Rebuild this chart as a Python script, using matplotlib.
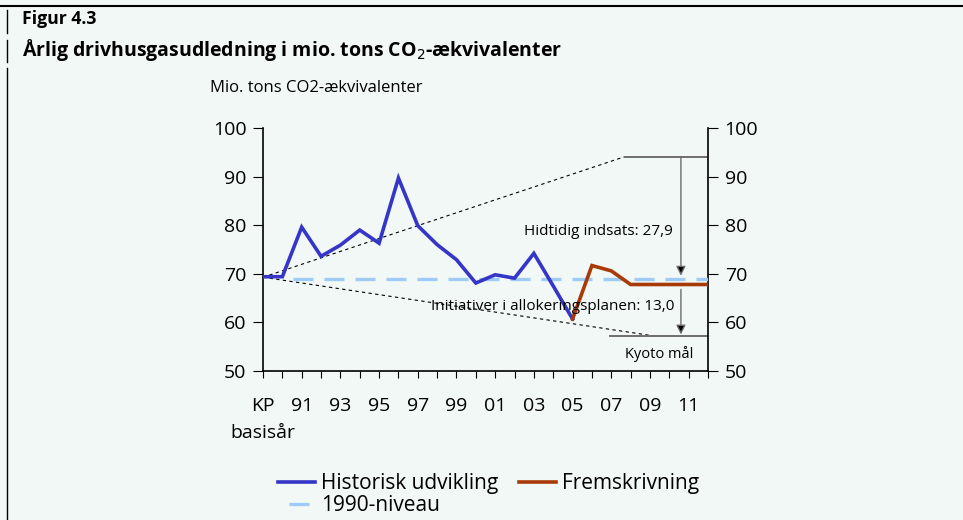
import matplotlib
matplotlib.use("Agg")
import matplotlib.pyplot as plt
import numpy as np

plt.rcParams['font.family'] = ['Open Sans', 'DejaVu Sans']

# data
years = ['KP', '90', '91', '92', '93', '94', '95', '96', '97', '98', '99', '00',
         '01', '02', '03', '04', '05', '06', '07', '08', '09', '10', '11', '12']
historisk = [69.4, 69.4, 79.6, 73.6, 75.9, 79.0, 76.3, 89.7, 79.9, 76.0, 72.9, 68.1,
             69.8, 69.1, 74.2, 67.5, 60.7]
frem_start = 16
fremskrivning = [60.7, 71.7, 70.6, 67.8, 67.8, 67.8, 67.8, 67.8]
niveau_1990 = 68.9

# annotation guide lines (x in category index, y in mio. tons)
upper_guide_x = [0, 18.7]
upper_guide_y = [69.3, 94.1]
upper_level_x = [18.7, 23]
lower_guide_x = [0, 20.4]
lower_guide_y = [69.3, 57.1]
lower_level_x = [17.95, 23]
arrow_x = 21.6
arrow1 = (93.9, 69.6)
arrow2 = (66.8, 57.5)

bg = '#F1F8F6'
blue = '#3535C8'
red = '#A83A08'
lightblue = '#9FCBF7'

fig = plt.figure(figsize=(9.63, 5.2), dpi=100)
fig.patch.set_facecolor(bg)
ax = fig.add_axes([263/963, 1-371/520, 445/963, 243/520])
ax.set_facecolor(bg)

x = np.arange(len(years))
l1, = ax.plot(x[:len(historisk)], historisk, color=blue, lw=2.6, label='Historisk udvikling',
              solid_joinstyle='miter', zorder=4)
l2, = ax.plot(x[frem_start:frem_start+len(fremskrivning)], fremskrivning, color=red, lw=2.6,
              label='Fremskrivning', solid_joinstyle='miter', zorder=4)
l3, = ax.plot(x[1:], [niveau_1990]*(len(x)-1), color=lightblue, lw=2.4,
              linestyle=(6.0, (6.0, 3.3)), label='1990-niveau', zorder=3)

# guide lines
ax.plot(upper_guide_x, upper_guide_y, color='black', lw=0.8, ls=(0, (3, 3)), zorder=2)
ax.plot(lower_guide_x, lower_guide_y, color='black', lw=0.8, ls=(0, (3, 3)), zorder=2)
ax.plot(upper_level_x, [upper_guide_y[1]]*2, color='#6E6E6E', lw=1.4, zorder=2)
ax.plot(lower_level_x, [lower_guide_y[1]]*2, color='#6E6E6E', lw=1.4, zorder=2)
for a in (arrow1, arrow2):
    ax.annotate('', xy=(arrow_x, a[1]), xytext=(arrow_x, a[0]),
                arrowprops=dict(arrowstyle='-|>', color='#6E6E6E', lw=1.0,
                                mutation_scale=14, shrinkA=0, shrinkB=0,
                                fc='black', ec='#6E6E6E'), zorder=5)

ax.text(21.2, 78.7, 'Hidtidig indsats: 27,9', ha='right', va='center', fontsize=11)
ax.text(21.25, 63.3, 'Initiativer i allokeringsplanen: 13,0', ha='right', va='center',
        fontsize=11, zorder=6)
ax.text(20.5, 53.6, 'Kyoto mål', ha='center', va='center', fontsize=10.5)

ax.set_xlim(0, 23)
ax.set_ylim(50, 100)
ax.set_yticks(np.arange(50, 101, 10))
ax.set_xticks(x)
labels = ['KP' if y == 'KP' else (y if int(y) % 2 == 1 else '') for y in years]
ax.set_xticklabels(labels, fontsize=14)
ax.tick_params(axis='x', length=5, pad=14, direction='out')
ax.tick_params(axis='y', labelsize=14, length=7, pad=5, right=True, labelright=True,
               direction='out')
for s in ('left', 'right', 'bottom'):
    ax.spines[s].set_linewidth(1.2)
ax.spines['top'].set_visible(False)
fig.text(263/963, 1-433/520, 'basisår', fontsize=14, ha='center', va='center')

fig.text(210/963, 1-88/520, 'Mio. tons CO2-ækvivalenter', fontsize=12, va='center')
fig.text(22/963, 1-19/520, 'Figur 4.3', fontsize=12.7, fontweight='bold', va='center')
fig.text(22/963, 1-50/520, 'Årlig drivhusgasudledning i mio. tons CO$_2$-ækvivalenter',
         fontsize=14, fontweight='bold', va='center')

# frame lines
fig.add_artist(plt.Line2D([0, 1], [1-6/520, 1-6/520], color='black', lw=1.5,
                          transform=fig.transFigure))
for y0, y1 in [(10, 33), (40, 62), (68, 520)]:
    fig.add_artist(plt.Line2D([7/963, 7/963], [1-y0/520, 1-y1/520], color='black', lw=1.0,
                              transform=fig.transFigure))

fig.legend(handles=[l1, l3, l2], ncol=2, loc='upper left',
           bbox_to_anchor=(268/963, 1-463/520), frameon=False, fontsize=15,
           handlelength=1.75, handletextpad=0.3, columnspacing=1.0, labelspacing=0.05,
           borderpad=0)

fig.savefig('out.png', dpi=100, facecolor=bg)
